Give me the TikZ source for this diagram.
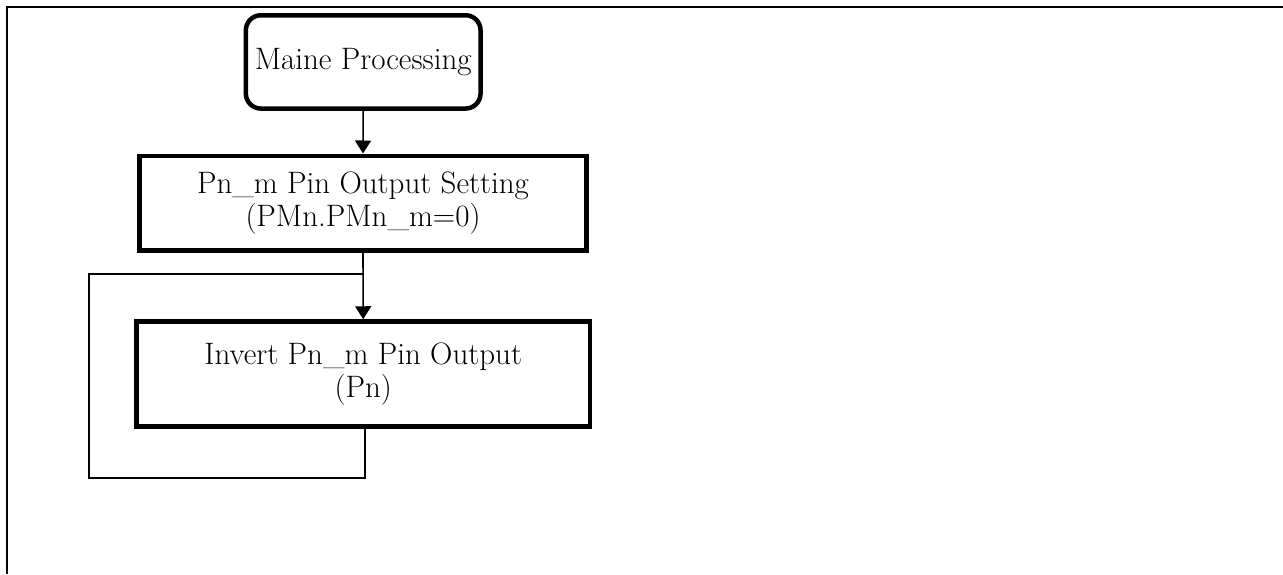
\documentclass[tikz,border=0pt]{standalone}
\usepackage{fontspec}
\usetikzlibrary{arrows.meta}
\begin{document}
\begin{tikzpicture}[x=1pt,y=-1pt,
  every node/.style={font=\fontsize{31}{33}\selectfont, align=center, inner sep=0pt},
  termbox/.style={draw, line width=4.5pt, rounded corners=15pt, minimum width=234.7pt, minimum height=93.3pt},
  procbox/.style={draw, line width=4.5pt, minimum width=447pt, minimum height=94.5pt},
  flow/.style={line width=1.6pt, -{Triangle[width=16pt,length=13pt]}},
  loopline/.style={line width=1.6pt},
  frameline/.style={line width=2pt}]
\useasboundingbox (0,0) rectangle (1283,574);
\draw[frameline] (7,574) -- (7,7) -- (1283,7);
\node[termbox] (start) at (363.2,61.9) {Maine Processing};
\node[procbox] (set) at (363,203) {Pn\_m Pin Output Setting\\(PMn.PMn\_m=0)};
\node[procbox, minimum width=453.7pt, minimum height=105pt] (inv) at (363.2,374) {Invert Pn\_m Pin Output\\(Pn)};
\draw[flow] (start.south) -- (set.north);
\draw[flow] (set.south) -- (inv.north);
\coordinate (j) at (363,274);
\draw[loopline] ([xshift=1.5pt]inv.south) -- ++(0,49.5) -| (89,274) -- (j);
\end{tikzpicture}
\end{document}
